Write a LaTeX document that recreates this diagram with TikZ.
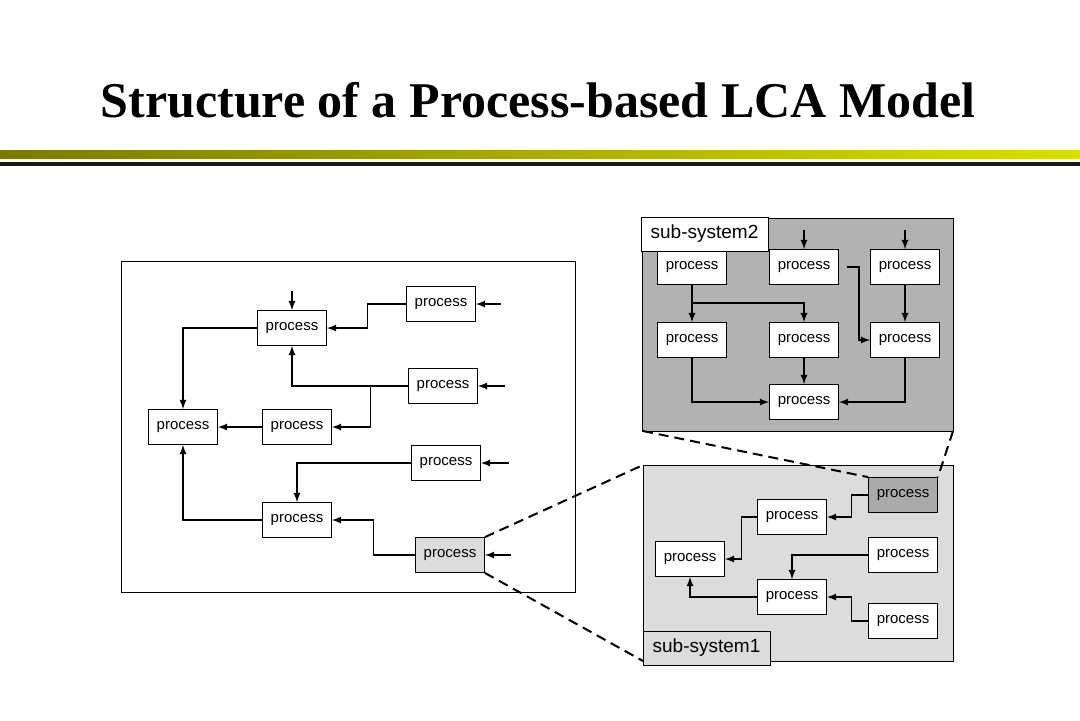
\documentclass[tikz,border=0pt]{standalone}
\usepackage{fontspec}
\setmainfont{Liberation Serif}
\newfontfamily\procfont{Liberation Sans}
\usepackage{tikz}
\usetikzlibrary{positioning,calc}
\definecolor{olivebar}{RGB}{122,122,0}
\definecolor{yellowbar}{RGB}{216,224,0}
\definecolor{darkpanel}{RGB}{178,178,178}
\definecolor{lightpanel}{RGB}{220,220,220}
\definecolor{darkbox}{RGB}{170,170,170}

\begin{document}
\begin{tikzpicture}[x=0.5pt, y=-0.5pt, >=latex,
    proc/.style={draw, fill=white, minimum width=34.5pt, minimum height=17.5pt,
        inner sep=0pt, font=\procfont\fontsize{7.5}{9}\selectfont},
    tag/.style={draw, minimum width=63.5pt, minimum height=17pt, inner sep=0pt,
        font=\procfont\fontsize{9.5}{11}\selectfont},
    link/.style={->, line width=0.6pt},
    zoomline/.style={dashed, line width=1pt, dash pattern=on 5pt off 3pt}]
    \useasboundingbox (0,0) rectangle (1080,720);

    % title and bars
    \node (title) at (538,100) {\fontsize{25}{30}\selectfont\bfseries Structure of a Process-based LCA Model};
    \shade[left color=olivebar, right color=yellowbar] (0,150) rectangle (1080,158);
    \fill[black!90] (0,162) rectangle (1080,166);

    % whole system
    \draw (121,261) rectangle (575,592);
    \node[proc] (T) at (292,328) {process};
    \node[proc] (R1) at (441,304) {process};
    \node[proc] (R2) at (443,386) {process};
    \node[proc] (L) at (183,427) {process};
    \node[proc] (M) at (297,427) {process};
    \node[proc] (R3) at (446,463) {process};
    \node[proc] (B) at (297,520) {process};
    \node[proc, fill=lightpanel] (G) at (450,555) {process};

    \coordinate (inT) at (292,291);
    \coordinate (inR1) at (501,304);
    \coordinate (inR2) at (505,386);
    \coordinate (inR3) at (509,463);
    \coordinate (inG) at (511,555);
    \draw[link] (inT) -- (T);
    \draw[link] (inR1) -- (R1);
    \draw[link] (inR2) -- (R2);
    \draw[link] (inR3) -- (R3);
    \draw[link] (inG) -- (G);

    \draw[link] (R1.west) -- ++(-39,0) |- (T.east);
    \draw[link] (R2.west) -- ++(-38,0) coordinate (j1) |- (M.east);
    \draw[link] (j1) -| (T.south);
    \draw[link] (T.west) -| (L.north);
    \draw[link] (M) -- (L);
    \draw[link] (R3.west) -| (B.north);
    \draw[link] (B.west) -| (L.south);
    \draw[link] (G.west) -- ++(-42,0) |- (B.east);

    % sub-system2
    \fill[darkpanel] (642,218) rectangle (953,431);
    \draw (642,218) rectangle (953,431);
    \node[proc] (A1) at (692,267) {process};
    \node[proc] (A2) at (804,267) {process};
    \node[proc] (A3) at (905,267) {process};
    \node[proc] (B1) at (692,340) {process};
    \node[proc] (B2) at (804,340) {process};
    \node[proc] (B3) at (905,340) {process};
    \node[proc] (C) at (804,402) {process};
    \node[tag, fill=white] (S2) at (704.5,234) {sub-system2};

    \coordinate (inA2) at (804,230);
    \coordinate (inA3) at (905,230);
    \draw[link] (inA2) -- (A2);
    \draw[link] (inA3) -- (A3);
    \draw[link] (A1.south) -- ++(0,18) coordinate (j2) -- (B1.north);
    \draw[link] (j2) -| (B2.north);
    \draw[link] ($(A2.east)+(8,0)$) -- ++(12,0) |- (B3.west);
    \draw[link] (A3) -- (B3);
    \draw[link] (B1.south) |- (C.west);
    \draw[link] (B2) -- (C);
    \draw[link] (B3.south) |- (C.east);

    % sub-system1
    \fill[lightpanel] (643,465) rectangle (953,661);
    \draw (643,465) rectangle (953,661);
    \node[proc, fill=darkbox] (D) at (903,495) {process};
    \node[proc] (E) at (792,517) {process};
    \node[proc] (F) at (690,559) {process};
    \node[proc] (H) at (903,555) {process};
    \node[proc] (K) at (792,597) {process};
    \node[proc] (I) at (903,621) {process};
    \node[tag, fill=lightpanel] (S1) at (706.5,648) {sub-system1};

    \draw[link] (D.west) -- ++(-17,0) |- (E.east);
    \draw[link] (E.west) -- ++(-16,0) |- (F.east);
    \draw[link] (H.west) -| (K.north);
    \draw[link] (K.west) -| (F.south);
    \draw[link] (I.west) -- ++(-17,0) |- (K.east);

    % zoom lines
    \draw[zoomline] (G.north east) -- (643,465);
    \draw[zoomline] (G.south east) -- (643,661);
    \draw[zoomline] (643,431) -- (D.north west);
    \draw[zoomline] (953,431) -- (D.north east);
\end{tikzpicture}
\end{document}
